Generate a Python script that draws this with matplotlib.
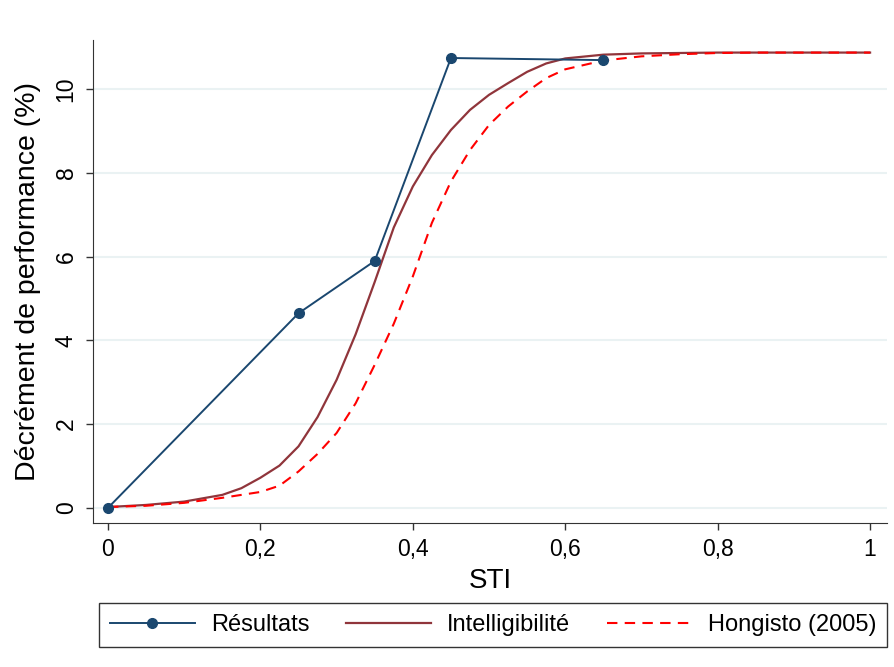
import matplotlib.pyplot as plt

plt.rcParams['font.family'] = ['Liberation Sans', 'DejaVu Sans']

# Résultats (mesures)
sti_res = [0, 0.25, 0.35, 0.45, 0.65]
dec_res = [0.0, 4.65, 5.9, 10.75, 10.7]

# courbes
sti_curve = [0, 0.05, 0.1, 0.15, 0.175, 0.2, 0.225, 0.25, 0.275, 0.3, 0.325,
             0.35, 0.375, 0.4, 0.425, 0.45, 0.475, 0.5, 0.525, 0.55, 0.575,
             0.6, 0.65, 0.7, 0.75, 0.8, 0.85, 0.9, 0.95, 1.0]
intellig = [0.02, 0.07, 0.15, 0.31, 0.47, 0.72, 1.01, 1.47, 2.17, 3.06, 4.15,
            5.4, 6.7, 7.68, 8.43, 9.03, 9.51, 9.87, 10.15, 10.42, 10.62,
            10.74, 10.83, 10.86, 10.87, 10.88, 10.88, 10.88, 10.88, 10.88]
hongisto = [0.02, 0.05, 0.12, 0.24, 0.31, 0.38, 0.53, 0.87, 1.29, 1.79, 2.5,
            3.42, 4.4, 5.53, 6.81, 7.8, 8.55, 9.15, 9.59, 9.95, 10.27,
            10.48, 10.69, 10.79, 10.84, 10.87, 10.88, 10.88, 10.88, 10.88]

xticks = [0, 0.2, 0.4, 0.6, 0.8, 1.0]
xtick_labels = ['0', '0,2', '0,4', '0,6', '0,8', '1']
yticks = [0, 2, 4, 6, 8, 10]

fig = plt.figure(figsize=(8.94, 6.67), dpi=100)
ax = fig.add_axes([0.104, 0.216, 0.888, 0.724])

for y in yticks:
    ax.axhline(y, color='#eaf2f3', lw=1.5, zorder=0)

ax.plot(sti_res, dec_res, color='#1a476f', lw=1.4, marker='o', ms=7,
        label='Résultats', zorder=4)
ax.plot(sti_curve, intellig, color='#90353b', lw=1.6, label='Intelligibilité', zorder=3)
ax.plot(sti_curve, hongisto, color='#ff0000', lw=1.5, ls=(0, (5, 3.5)),
        label='Hongisto (2005)', zorder=3)

ax.set_xlim(-0.0197, 1.022)
ax.set_ylim(-0.36, 11.18)
ax.set_xticks(xticks)
ax.set_xticklabels(xtick_labels)
ax.set_yticks(yticks)
ax.set_yticklabels([str(v) for v in yticks], rotation=90, va='center')
ax.tick_params(labelsize=16.5, length=5, width=1, color='#333333', pad=6)

for s in ['top', 'right']:
    ax.spines[s].set_visible(False)
for s in ['left', 'bottom']:
    ax.spines[s].set_color('#333333')

ax.set_xlabel('STI', fontsize=20, labelpad=5)
ax.set_ylabel('Décrément de performance (%)', fontsize=20.5, labelpad=10)

leg = ax.legend(loc='upper center', bbox_to_anchor=(0.504, -0.142), ncol=3,
                fontsize=17, handlelength=3.6, handletextpad=0.68,
                columnspacing=1.55, fancybox=False, framealpha=1,
                edgecolor='#333333', borderpad=0.45)
leg.get_frame().set_linewidth(1)

fig.savefig('out.png', dpi=100)
